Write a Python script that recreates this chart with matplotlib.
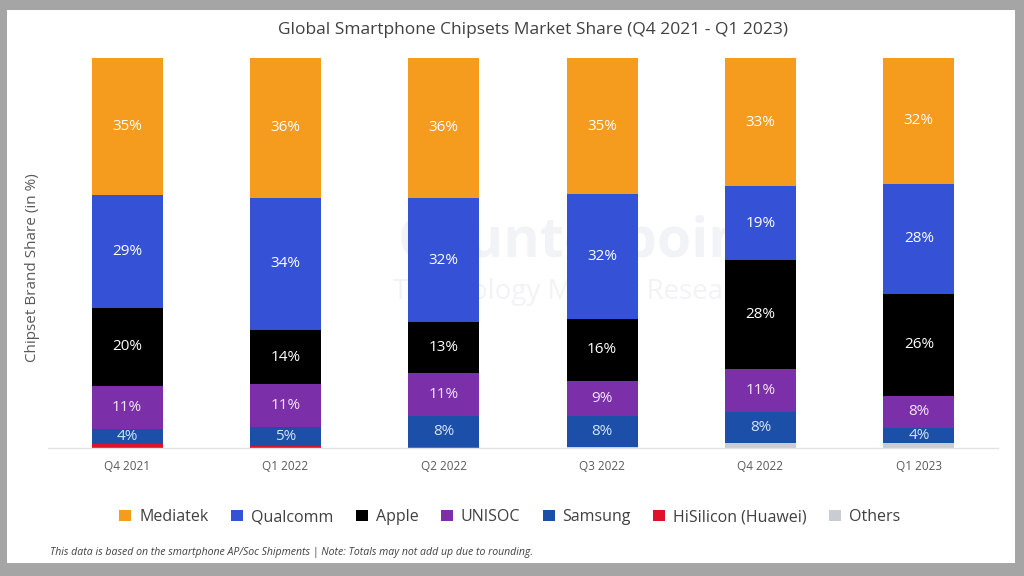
import matplotlib
matplotlib.use("Agg")
import matplotlib.pyplot as plt
from matplotlib.patches import Rectangle, Patch
import numpy as np

categories = ["Q4 2021", "Q1 2022", "Q2 2022", "Q3 2022", "Q4 2022", "Q1 2023"]
samsung   = [4, 5, 8, 8, 8, 4]
hisilicon = [1, 0.4, 0.3, 0, 0, 0]
others    = [0, 0, 0, 0.3, 1.2, 1.2]
unisoc    = [11, 11, 11, 9, 11, 8]
apple     = [20, 14, 13, 16, 28, 26]
qualcomm  = [29, 34, 32, 32, 19, 28]
mediatek  = [35, 36, 36, 35, 33, 32]

# stacking order bottom -> top
stack = [
    ("Others", others, "#c9ccd2", None),
    ("HiSilicon (Huawei)", hisilicon, "#e0112b", None),
    ("Samsung", samsung, "#1b4fa8", "#d4e4f7"),
    ("UNISOC", unisoc, "#7b2fa9", "#f4e6f5"),
    ("Apple", apple, "#000000", "#ffffff"),
    ("Qualcomm", qualcomm, "#3552d6", "#ffffff"),
    ("Mediatek", mediatek, "#f59b1e", "#ffffff"),
]
legend_order = ["Mediatek", "Qualcomm", "Apple", "UNISOC", "Samsung", "HiSilicon (Huawei)", "Others"]

plt.rcParams['font.family'] = ['Open Sans', 'DejaVu Sans']

fig = plt.figure(figsize=(10.24, 5.76), dpi=100)
fig.patch.set_facecolor("#a5a5a5")
fig.patches.append(Rectangle((7/1024, 1 - 563/576), (1015 - 7)/1024, (563 - 10)/576,
                             transform=fig.transFigure, facecolor="white", edgecolor="none", zorder=-5))

ax = fig.add_axes([48/1024, 1 - 448/576, 950/1024, 390/576])
ax.set_facecolor("none")

# faint watermark behind the bars
ax.text(0.57, 1 - 243/576, "Counterpoint", transform=fig.transFigure, ha="center", va="center",
        fontsize=40, fontweight="bold", color="#f2f3f6", zorder=1)
ax.text(0.565, 1 - 292/576, "Technology Market Research", transform=fig.transFigure, ha="center",
        va="center", fontsize=20, color="#f2f3f6", zorder=1)

x = np.arange(len(categories))
totals = np.zeros(len(categories))
for _, vals, _, _ in stack:
    totals += np.array(vals, dtype=float)

bottom = np.zeros(len(categories))
colors = {}
for name, vals, color, tcol in stack:
    v = np.array(vals, dtype=float)
    h = v / totals * 100
    ax.bar(x, h, width=0.45, bottom=bottom, color=color, edgecolor="none", zorder=2)
    colors[name] = color
    if tcol is not None:
        for i in range(len(x)):
            if v[i] >= 3:
                ax.text(x[i], bottom[i] + h[i] / 2, f"{vals[i]:g}%", ha="center", va="center",
                        fontsize=11, color=tcol, zorder=3)
    bottom += h

ax.set_xlim(-0.5, len(categories) - 0.5)
ax.set_ylim(0, 100)
ax.set_xticks(x)
ax.set_xticklabels(categories, fontsize=8.5, color="#595959")
ax.tick_params(axis="x", length=0, pad=9)
ax.set_yticks([])
for s in ["top", "right", "left"]:
    ax.spines[s].set_visible(False)
ax.spines["bottom"].set_color("#e3e3e3")
ax.spines["bottom"].set_linewidth(1)

fig.text(33/1024, 1 - 268/576, "Chipset Brand Share (in %)", rotation=90, ha="center", va="center",
         fontsize=11, color="#595959")

fig.text(533/1024, 1 - 30/576, "Global Smartphone Chipsets Market Share (Q4 2021 - Q1 2023)",
         ha="center", va="center", fontsize=12.5, color="#404040")

handles = [Patch(facecolor=colors[n], edgecolor="none") for n in legend_order]
fig.legend(handles, legend_order, loc="center", bbox_to_anchor=(510/1024, 1 - 517/576), ncol=7,
           frameon=False, fontsize=11.5, handlelength=0.75, handleheight=0.75, handletextpad=0.5,
           columnspacing=1.4, labelcolor="#404040")

fig.text(50/1024, 1 - 552/576,
         "This data is based on the smartphone AP/Soc Shipments | Note: Totals may not add up due to rounding.",
         ha="left", va="center", fontsize=7.6, style="italic", color="#404040")

fig.savefig("out.png", dpi=100, facecolor=fig.get_facecolor())
